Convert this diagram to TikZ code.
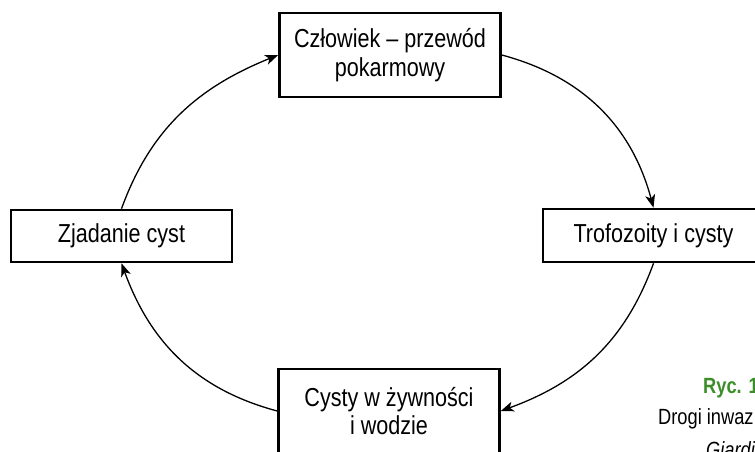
\documentclass[tikz,border=0pt]{standalone}
\usepackage{fontspec}
\setmainfont[FakeStretch=0.83]{Liberation Sans}
\usetikzlibrary{arrows.meta}
\definecolor{capgreen}{HTML}{3B8E2A}
\tikzset{
  box/.style={draw=black, line width=2.6pt, minimum width=221pt, inner sep=0pt,
    align=center, font=\fontsize{26}{28.5}\selectfont},
  conn/.style={line width=1.3pt, -{Stealth[length=13pt,width=10pt,inset=3.5pt]}},
  captext/.style={anchor=base west, inner sep=0pt, font=\fontsize{22}{26}\selectfont}
}
\begin{document}
\begin{tikzpicture}[x=1pt,y=1pt]
\useasboundingbox (0,0) rectangle (755,451);
\node[box, minimum height=84pt] (top) at (390,396) {Człowiek – przewód\\pokarmowy};
\node[box, minimum height=52pt] (left) at (121.5,215) {Zjadanie cyst};
\node[box, minimum height=53pt] (right) at (653.5,215.5) {Trofozoity i cysty};
\node[box, minimum height=84pt] (bottom) at (389,40) {Cysty w żywności\\i wodzie};
\draw[conn] (left.north) to[out=70,in=-158] (top.west);
\draw[conn] (top.east) to[out=-15,in=105] (right.north);
\draw[conn] (right.south) to[out=-110,in=20] (bottom.east);
\draw[conn] (bottom.west) to[out=165,in=-70] (left.south);
\node[captext, text=capgreen, font=\fontsize{22}{26}\selectfont\bfseries] (ryc) at (703,58) {Ryc. 1};
\node[captext] (drogi) at (658,27) {Drogi inwaz};
\node[captext, font=\fontsize{22}{26}\selectfont\itshape] (giardi) at (706,-6) {Giardi};
\end{tikzpicture}
\end{document}
